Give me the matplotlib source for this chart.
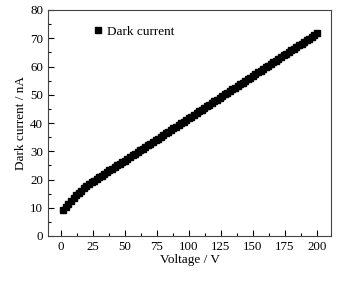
import matplotlib
matplotlib.use("Agg")
import matplotlib.pyplot as plt
from matplotlib.ticker import MultipleLocator

plt.rcParams["font.family"] = ["Liberation Serif", "DejaVu Serif"]
plt.rcParams["font.size"] = 9

# Voltage (V) and dark current (nA)
voltage = [2, 4, 6, 8, 10, 12, 14, 16, 18, 20,
           22, 24, 26, 28, 30, 32, 34, 36, 38, 40,
           42, 44, 46, 48, 50, 52, 54, 56, 58, 60,
           62, 64, 66, 68, 70, 72, 74, 76, 78, 80,
           82, 84, 86, 88, 90, 92, 94, 96, 98, 100,
           102, 104, 106, 108, 110, 112, 114, 116, 118, 120,
           122, 124, 126, 128, 130, 132, 134, 136, 138, 140,
           142, 144, 146, 148, 150, 152, 154, 156, 158, 160,
           162, 164, 166, 168, 170, 172, 174, 176, 178, 180,
           182, 184, 186, 188, 190, 192, 194, 196, 198, 200]
dark_current = [9.1, 10.4, 11.5, 12.5, 13.5, 14.4, 15.3, 16.1, 16.9, 17.6,
                18.3, 19.0, 19.6, 20.2, 20.8, 21.4, 22.0, 22.6, 23.2, 23.8,
                24.4, 25.0, 25.5, 26.1, 26.7, 27.3, 27.9, 28.5, 29.1, 29.7,
                30.3, 30.9, 31.5, 32.1, 32.7, 33.3, 33.9, 34.5, 35.1, 35.7,
                36.3, 36.9, 37.5, 38.1, 38.7, 39.3, 39.9, 40.5, 41.1, 41.7,
                42.3, 42.9, 43.5, 44.1, 44.7, 45.3, 45.9, 46.5, 47.1, 47.7,
                48.3, 48.9, 49.5, 50.1, 50.7, 51.3, 51.9, 52.5, 53.1, 53.7,
                54.3, 54.9, 55.5, 56.1, 56.7, 57.3, 57.9, 58.5, 59.1, 59.7,
                60.3, 60.9, 61.5, 62.1, 62.7, 63.3, 63.9, 64.5, 65.1, 65.7,
                66.3, 66.9, 67.5, 68.1, 68.7, 69.3, 69.9, 70.5, 71.1, 71.8]

fig, ax = plt.subplots(figsize=(3.44, 2.81), dpi=100)
fig.subplots_adjust(left=48/344, right=331/344, bottom=45/281, top=271/281)

ax.plot(voltage, dark_current, ls="none", marker="s", ms=4.3, color="black",
        label="Dark current")

ax.set_xlim(-10, 211)
ax.set_ylim(0, 80)
ax.xaxis.set_major_locator(MultipleLocator(25))
ax.xaxis.set_minor_locator(MultipleLocator(12.5))
ax.yaxis.set_major_locator(MultipleLocator(10))
ax.yaxis.set_minor_locator(MultipleLocator(5))
ax.tick_params(which="both", direction="in", top=False, right=False)
ax.tick_params(which="major", length=4, width=0.8, labelsize=9.3)
ax.tick_params(which="minor", length=2, width=0.8)
for s in ax.spines.values():
    s.set_linewidth(0.8)
    s.set_color("#444444")

ax.set_xlabel("Voltage / V", labelpad=1, fontsize=9.5)
ax.set_ylabel("Dark current / nA", labelpad=2, fontsize=9.5)

ax.legend(loc="center left", bbox_to_anchor=(0.12, 0.905), frameon=False,
          handlelength=0.6, handletextpad=0.4, markerscale=1.0, fontsize=9.5)

fig.savefig("out.png", dpi=100)
